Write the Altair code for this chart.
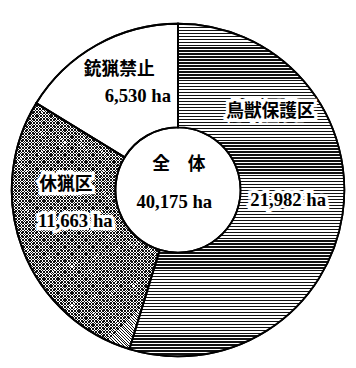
import altair as alt
import pandas as pd

# ---- data ----
categories = ["鳥獣保護区", "休猟区", "銃猟禁止"]
areas = [21982, 11663, 6530]
area_labels = ["21,982 ha", "11,663 ha", "6,530 ha"]
total_title = "全　体"
total_label = "40,175 ha"

df = pd.DataFrame({"cat": categories, "area": areas, "ord": list(range(len(categories)))})

W, H = 350, 362
R_OUT, R_IN = 178, 67


def stripes(n, duty, on, off, x1, y1, x2, y2):
    stops = []
    for i in range(n):
        a, b, c = i / n, (i + duty) / n, (i + 1) / n
        stops += [
            alt.GradientStop(color=on, offset=a),
            alt.GradientStop(color=on, offset=b),
            alt.GradientStop(color=off, offset=b),
            alt.GradientStop(color=off, offset=c),
        ]
    return alt.LinearGradient(gradient="linear", stops=stops, x1=x1, y1=y1, x2=x2, y2=y2)


clear = "rgba(255,255,255,0)"
hstripe = stripes(112, 0.45, "#111111", "#ffffff", 0, 0, 0, 1)
hatch_a = stripes(120, 0.35, "#111111", clear, 0, 0, 0.6, 1)
hatch_b = stripes(120, 0.35, "#111111", clear, 0, 1, 0.6, 0)

theta = alt.Theta("area:Q", stack=True)
order = alt.Order("ord:Q")
base = alt.Chart(df)

arcs = base.mark_arc(innerRadius=R_IN, outerRadius=R_OUT, fill="white",
                     stroke="black", strokeWidth=2).encode(theta=theta, order=order)


def overlay(grad, cat):
    return base.mark_arc(innerRadius=R_IN, outerRadius=R_OUT, fill=grad,
                         strokeWidth=0).encode(
        theta=theta, order=order,
        opacity=alt.condition(alt.datum.cat == cat, alt.value(1), alt.value(0)))


stripe_layer = overlay(hstripe, categories[0])
hatch1 = overlay(hatch_a, categories[1])
hatch2 = overlay(hatch_b, categories[1])
outline = base.mark_arc(innerRadius=R_IN, outerRadius=R_OUT, fill=clear,
                        stroke="black", strokeWidth=2).encode(theta=theta, order=order)

labels = pd.DataFrame({
    "key": ["n0", "v0", "n1", "v1", "n2", "v2", "tt", "tv"],
    "text": [categories[0], area_labels[0], categories[1], area_labels[1],
             categories[2], area_labels[2], total_title, total_label],
})

# layout: offsets of each label from the ring centre, and font per label kind
offsets = {
    "n0": (99, -84), "v0": (118, 11),
    "n1": (-120, -6), "v1": (-110, 34),
    "n2": (-63, -129), "v2": (-43, -100),
    "tt": (1, -27), "tv": (-4, 13),
}
cjk = dict(font="Noto Sans CJK JP", fontSize=19, fontWeight="bold")
num = dict(font="Liberation Serif", fontSize=20, fontWeight="bold")
halo_keys = {"n0", "v0", "n1", "v1"}

text_layers = []
for key, (dx, dy) in offsets.items():
    style = num if key.startswith("v") or key == "tv" else cjk
    src = alt.Chart(labels).transform_filter(alt.datum.key == key)
    pos = dict(x=alt.value(W / 2), y=alt.value(H / 2), text="text:N")
    if key in halo_keys:
        text_layers.append(src.mark_text(dx=dx, dy=dy, baseline="middle", align="center",
                                         stroke="white", strokeWidth=7, fill="white",
                                         **style).encode(**pos))
    text_layers.append(src.mark_text(dx=dx, dy=dy, baseline="middle", align="center",
                                     fill="black", **style).encode(**pos))

chart = alt.layer(arcs, stripe_layer, hatch1, hatch2, outline, *text_layers).properties(
    width=W, height=H, padding=0
).configure_view(stroke=None)

chart.save("out.html", embed_options={"renderer": "svg", "actions": False})
